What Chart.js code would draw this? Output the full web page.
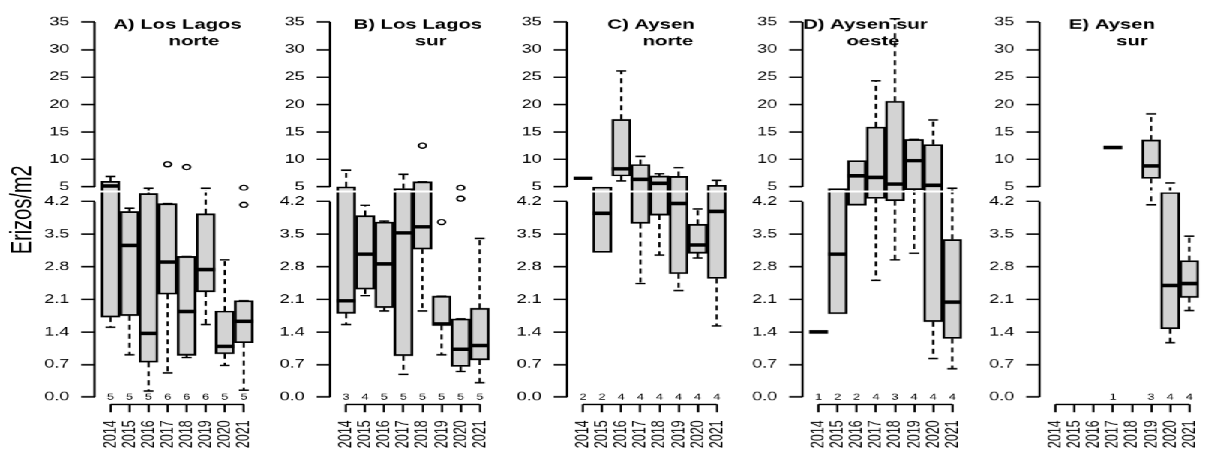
<!DOCTYPE html>
<html>
<head>
<meta charset="utf-8">
<script src="https://cdn.jsdelivr.net/npm/chart.js@4.4.1/dist/chart.umd.min.js"></script>
<style>
  html, body { margin: 0; padding: 0; background: #fff; }
  /* the reference figure is stretched sideways, so the panels are laid out narrow and widened */
  #wrap { position: relative; width: 819px; height: 453px; transform: scaleX(1.5); transform-origin: 0 0; }
  #wrap canvas { position: absolute; top: 0; }
</style>
</head>
<body>
<div id="wrap"></div>
<script>
const YEARS = ['2014', '2015', '2016', '2017', '2018', '2019', '2020', '2021'];
const Y_TICKS = [0, 0.7, 1.4, 2.1, 2.8, 3.5, 4.2, 5, 10, 15, 20, 25, 30, 35];
const Y_TITLE = 'Erizos/m2';
const TITLES = [
  ['A) Los Lagos', 'norte'],
  ['B) Los Lagos', 'sur'],
  ['C) Aysen', 'norte'],
  ['D) Aysen sur', 'oeste'],
  ['E) Aysen', 'sur']
];

// A) Los Lagos norte
const A_N   = [5, 5, 5, 6, 6, 6, 5, 5];
const A_LO  = [1.5, 0.91, 0.13, 0.52, 0.85, 1.56, 0.68, 0.15];
const A_Q1  = [1.72, 1.75, 0.75, 2.21, 0.9, 2.26, 0.93, 1.17];
const A_MED = [5.15, 3.26, 1.37, 2.9, 1.84, 2.74, 1.09, 1.63];
const A_Q3  = [6.05, 3.99, 4.65, 4.16, 3.02, 3.94, 1.85, 2.07];
const A_HI  = [6.9, 4.06, 4.93, 4.16, 3.02, 4.93, 2.95, 2.07];
const A_OUT = [[], [], [], [9.1], [8.6], [], [], [4.13, 4.95]];

// B) Los Lagos sur
const B_N   = [3, 4, 5, 5, 5, 5, 5, 5];
const B_LO  = [1.56, 2.18, 1.85, 0.49, 1.85, 0.91, 0.55, 0.31];
const B_Q1  = [1.8, 2.32, 1.92, 0.89, 3.18, 1.54, 0.66, 0.8];
const B_MED = [2.07, 3.07, 2.86, 3.53, 3.66, 1.57, 1.03, 1.11];
const B_Q3  = [5.0, 3.9, 3.76, 4.9, 5.95, 2.17, 1.68, 1.91];
const B_HI  = [8.05, 4.12, 3.78, 7.3, 5.95, 2.17, 1.68, 3.41];
const B_OUT = [[], [], [], [], [12.5], [3.76], [4.36, 4.95], []];

// C) Aysen norte
const C_N   = [2, 2, 4, 4, 4, 4, 4, 4];
const C_LO  = [null, null, 6.07, 2.44, 3.05, 2.29, 2.99, 1.53];
const C_Q1  = [null, 3.11, 6.97, 3.73, 3.91, 2.65, 3.09, 2.55];
const C_MED = [6.56, 3.95, 8.3, 6.38, 5.66, 4.16, 3.27, 3.99];
const C_Q3  = [null, 4.99, 17.3, 9.06, 6.97, 6.9, 3.71, 5.3];
const C_HI  = [null, null, 26.1, 10.55, 7.4, 8.5, 4.04, 6.2];
const C_OUT = [[], [], [], [], [], [], [], []];

// D) Aysen sur oeste
const D_N   = [1, 2, 2, 4, 3, 4, 4, 4];
const D_LO  = [null, null, null, 2.51, 2.95, 3.09, 0.83, 0.61];
const D_Q1  = [null, 1.79, 4.12, 4.38, 4.25, 4.84, 1.62, 1.26];
const D_MED = [1.4, 3.07, 7.0, 6.73, 5.5, 9.78, 5.3, 2.04];
const D_Q3  = [null, 4.9, 9.78, 15.9, 20.6, 13.66, 12.7, 3.39];
const D_HI  = [null, null, null, 24.3, 35.6, 13.66, 17.2, 4.93];
const D_OUT = [[], [], [], [], [], [], [], []];

// E) Aysen sur
const E_N   = [null, null, null, 1, null, 3, 4, 4];
const E_LO  = [null, null, null, null, null, 4.13, 1.17, 1.86];
const E_Q1  = [null, null, null, null, null, 6.56, 1.47, 2.14];
const E_MED = [null, null, null, 12.16, null, 8.8, 2.4, 2.44];
const E_Q3  = [null, null, null, null, null, 13.55, 4.7, 2.93];
const E_HI  = [null, null, null, null, null, 18.3, 5.7, 3.46];
const E_OUT = [[], [], [], [], [], [], [], []];

const PANELS = [
  { n: A_N, lo: A_LO, q1: A_Q1, med: A_MED, q3: A_Q3, hi: A_HI, out: A_OUT },
  { n: B_N, lo: B_LO, q1: B_Q1, med: B_MED, q3: B_Q3, hi: B_HI, out: B_OUT },
  { n: C_N, lo: C_LO, q1: C_Q1, med: C_MED, q3: C_Q3, hi: C_HI, out: C_OUT },
  { n: D_N, lo: D_LO, q1: D_Q1, med: D_MED, q3: D_Q3, hi: D_HI, out: D_OUT },
  { n: E_N, lo: E_LO, q1: E_Q1, med: E_MED, q3: E_Q3, hi: E_HI, out: E_OUT }
];

// layout (px before the sideways stretch)
const AXIS_X = [63, 220, 378, 535, 693];
const SCALE_W = 34;
const PLOT_W = 123;
const STEP = 15.07;            // px between years
const X_MIN = 1 - 12.7 / STEP;
const X_MAX = X_MIN + PLOT_W / STEP;
const TITLE_X = [[55.4, 66.4], [58.5, 67], [55.9, 67.2], [41.8, 46.9], [48.2, 61.5]];
const BREAK_AT = 4.75;
const INK = 1.5;

// broken y axis: value -> px above the bottom of a 396px plot area
const Y_KNOTS = [[-0.154, 0], [0, 7.3], [4.2, 206.3], [5, 221.3], [35, 389], [36.25, 396]];

class BrokenScale extends Chart.LinearScale {
  getPixelForValue(value) {
    const k = Y_KNOTS, h = k[k.length - 1][1];
    let i = 1;
    while (i < k.length - 1 && value > k[i][0]) i++;
    const [v0, p0] = k[i - 1], [v1, p1] = k[i];
    return this.getPixelForDecimal((p0 + (value - v0) / (v1 - v0) * (p1 - p0)) / h);
  }
  getValueForPixel(pixel) {
    const k = Y_KNOTS, h = k[k.length - 1][1];
    const p = this.getDecimalForPixel(pixel) * h;
    let i = 1;
    while (i < k.length - 1 && p > k[i][1]) i++;
    const [v0, p0] = k[i - 1], [v1, p1] = k[i];
    return v0 + (p - p0) / (p1 - p0) * (v1 - v0);
  }
}
BrokenScale.id = 'broken';
BrokenScale.defaults = {};
Chart.register(BrokenScale);

Chart.defaults.font.family = '"Liberation Sans", Arial, sans-serif';
Chart.defaults.color = '#000';

const panelDecor = {
  id: 'panelDecor',
  afterDatasetsDraw(chart) {
    const { ctx, chartArea: a, scales: { y } } = chart;
    const yb = y.getPixelForValue(BREAK_AT);
    ctx.save();
    ctx.strokeStyle = '#fff';
    ctx.lineWidth = 2;
    ctx.beginPath();
    ctx.moveTo(a.left + 2, yb);
    ctx.lineTo(a.right + 4, yb);
    ctx.stroke();
    ctx.restore();
  },
  afterDraw(chart, args, opts) {
    const { ctx, chartArea: a, scales: { x, y } } = chart;
    ctx.save();
    ctx.strokeStyle = '#000';
    ctx.lineWidth = INK;
    ctx.beginPath();
    ctx.moveTo(a.left, y.getPixelForValue(0));
    ctx.lineTo(a.left, y.getPixelForValue(4.2));
    ctx.moveTo(a.left, y.getPixelForValue(5));
    ctx.lineTo(a.left, y.getPixelForValue(35));
    ctx.moveTo(x.getPixelForValue(1), a.bottom);
    ctx.lineTo(x.getPixelForValue(YEARS.length), a.bottom);
    ctx.stroke();

    ctx.fillStyle = '#000';
    ctx.textAlign = 'center';
    ctx.textBaseline = 'middle';
    ctx.font = '8.5px "Liberation Sans", Arial, sans-serif';
    opts.n.forEach((n, i) => {
      if (n != null) ctx.fillText(String(n), x.getPixelForValue(i + 1), y.getPixelForValue(0));
    });

    ctx.textBaseline = 'alphabetic';
    ctx.font = 'bold 13.5px "Liberation Sans", Arial, sans-serif';
    ctx.fillText(opts.title[0], a.left + opts.titleX[0], 28.5);
    ctx.fillText(opts.title[1], a.left + opts.titleX[1], 45.5);
    ctx.restore();
  }
};

function buildDatasets(p) {
  const boxes = [], whisk = [], caps = [], meds = [], outs = [];
  YEARS.forEach((yr, i) => {
    const x = i + 1;
    if (p.med[i] != null) meds.push({ x, y: p.med[i] });
    if (p.q1[i] != null) boxes.push({ x, y: [p.q1[i], p.q3[i]] });
    if (p.hi[i] != null) {
      whisk.push({ x, y: p.q3[i] }, { x, y: p.hi[i] }, { x, y: null });
      caps.push({ x, y: p.hi[i] });
    }
    if (p.lo[i] != null) {
      whisk.push({ x, y: p.q1[i] }, { x, y: p.lo[i] }, { x, y: null });
      caps.push({ x, y: p.lo[i] });
    }
    p.out[i].forEach(v => outs.push({ x, y: v }));
  });
  return [
    { type: 'bar', data: boxes, backgroundColor: '#d3d3d3', borderColor: '#000', borderWidth: 1.8,
      borderSkipped: false, barThickness: 12.5, clip: false, order: 5 },
    { type: 'line', data: whisk, borderColor: '#000', borderWidth: INK, borderDash: [5, 4],
      pointRadius: 0, spanGaps: false, clip: false, order: 4 },
    { type: 'scatter', data: caps, pointStyle: 'line', pointRadius: 3.3, borderColor: '#000',
      borderWidth: INK, clip: false, order: 3 },
    { type: 'scatter', data: meds, pointStyle: 'line', pointRadius: 6.25, borderColor: '#000',
      borderWidth: 3.5, clip: false, order: 1 },
    { type: 'scatter', data: outs, pointStyle: 'circle', pointRadius: 2.5, backgroundColor: 'rgba(0,0,0,0)',
      borderColor: '#000', borderWidth: 1.3, clip: false, order: 2 }
  ];
}

const wrap = document.getElementById('wrap');
PANELS.forEach((p, k) => {
  const left = k === 0 ? 0 : AXIS_X[k] - SCALE_W;
  const yWidth = AXIS_X[k] - left;
  const canvas = document.createElement('canvas');
  canvas.width = yWidth + PLOT_W;
  canvas.height = 453;
  canvas.style.left = left + 'px';
  wrap.appendChild(canvas);

  new Chart(canvas, {
    type: 'bar',
    data: { datasets: buildDatasets(p) },
    options: {
      responsive: false,
      devicePixelRatio: 1.5,
      animation: false,
      events: [],
      layout: { padding: { top: 8, left: 0, right: 0, bottom: 0 } },
      plugins: {
        legend: { display: false },
        tooltip: { enabled: false },
        panelDecor: { n: p.n, title: TITLES[k], titleX: TITLE_X[k] }
      },
      scales: {
        x: {
          type: 'linear',
          min: X_MIN,
          max: X_MAX,
          offset: false,
          afterBuildTicks: s => { s.ticks = YEARS.map((yr, i) => ({ value: i + 1 })); },
          afterFit: s => { s.height = 49; },
          ticks: {
            autoSkip: false, minRotation: 90, maxRotation: 90, padding: 8,
            font: { size: 12.5 }, color: '#000',
            callback: v => YEARS[v - 1]
          },
          grid: { offset: false, drawOnChartArea: false, drawTicks: true, tickLength: 8, tickWidth: INK, tickColor: '#000' },
          border: { display: false }
        },
        y: {
          type: 'broken',
          min: Y_KNOTS[0][0],
          max: Y_KNOTS[Y_KNOTS.length - 1][0],
          afterBuildTicks: s => { s.ticks = Y_TICKS.map(v => ({ value: v })); },
          afterFit: s => { s.width = yWidth; },
          ticks: {
            autoSkip: false, padding: 8, font: { size: 12 }, color: '#000',
            callback: v => (v < 4.5 ? v.toFixed(1) : String(v))
          },
          grid: { drawOnChartArea: false, drawTicks: true, tickLength: 8.9, tickWidth: INK, tickColor: '#000' },
          border: { display: false },
          title: {
            display: k === 0, text: Y_TITLE, font: { size: 20 }, color: '#000',
            padding: { top: 3, bottom: 0 }
          }
        }
      }
    },
    plugins: [panelDecor]
  });
});
</script>
</body>
</html>
